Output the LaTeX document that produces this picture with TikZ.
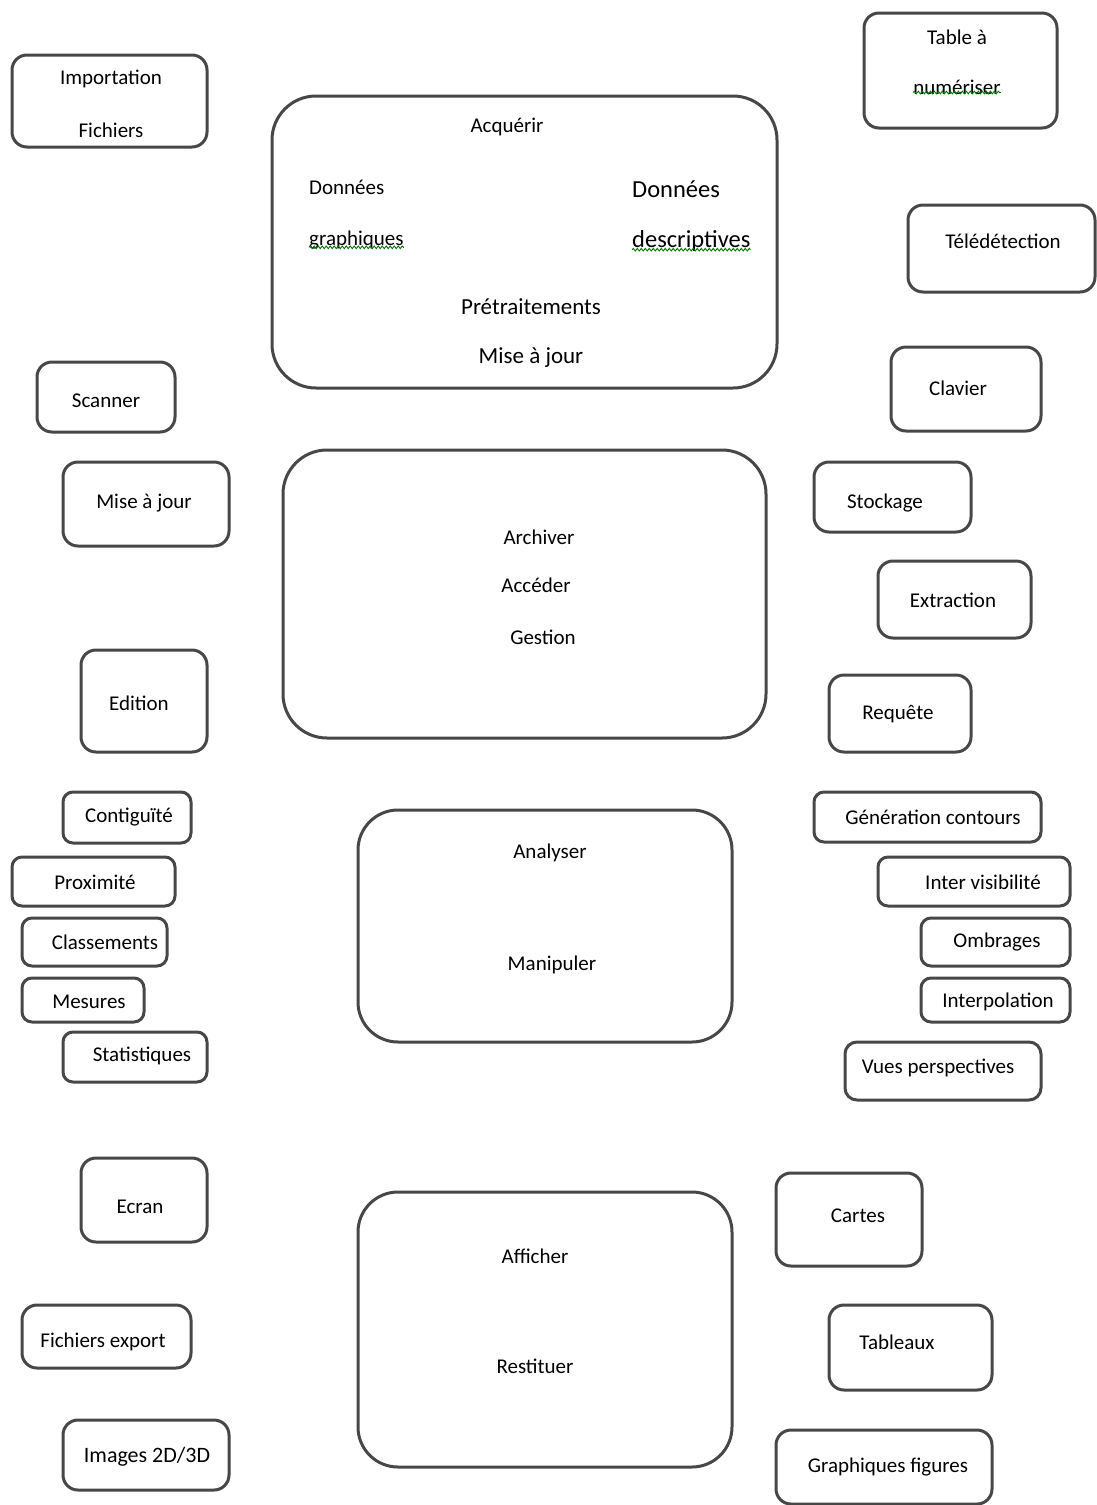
\documentclass[tikz,border=0pt]{standalone}
\usepackage{fontspec}
\setmainfont{Carlito}
\usetikzlibrary{decorations.pathmorphing}
\tikzset{
  box/.style={draw=black!72, line width=3pt, rounded corners=15pt, inner sep=0pt, fill=white},
  bigbox/.style={box, rounded corners=44pt},
  lbl/.style={inner sep=0pt, font=\fontsize{21}{24}\selectfont, text=black},
  lblbig/.style={lbl, font=\fontsize{24.5}{28}\selectfont},
  squig/.style={draw=green!45!black, line width=0.9pt, decorate, decoration={snake, amplitude=1.3pt, segment length=4pt}}
}
\begin{document}
\begin{tikzpicture}[x=1pt,y=-1pt]
\useasboundingbox (0,0) rectangle (1097,1505);
% boxes
\node[box, minimum width=195, minimum height=92] (imp) at (109.5,101) {};
\node[bigbox, minimum width=505, minimum height=292] (acq) at (524.5,242) {};
\node[box, minimum width=193, minimum height=115] (tab) at (960.5,70.5) {};
\node[box, minimum width=187, minimum height=87] (tel) at (1001.5,248.5) {};
\node[box, minimum width=150, minimum height=84] (clav) at (966,389) {};
\node[box, minimum width=138, minimum height=70] (scan) at (106,397) {};
\node[box, minimum width=166, minimum height=84] (maj) at (146,504) {};
\node[bigbox, minimum width=483, minimum height=288] (arch) at (524.5,594) {};
\node[box, minimum width=157, minimum height=70] (stock) at (892.5,497) {};
\node[box, minimum width=153, minimum height=77] (extr) at (954.5,599.5) {};
\node[box, minimum width=126, minimum height=102] (edit) at (144,701) {};
\node[box, minimum width=142, minimum height=77] (req) at (900,713.5) {};
\node[box, rounded corners=10pt, minimum width=128, minimum height=51] (cont) at (127,817.5) {};
\node[box, rounded corners=10pt, minimum width=163, minimum height=49] (prox) at (93.5,881.5) {};
\node[box, rounded corners=10pt, minimum width=145, minimum height=48] (class) at (94.5,942) {};
\node[box, rounded corners=10pt, minimum width=122, minimum height=44] (mes) at (83,1000) {};
\node[box, rounded corners=10pt, minimum width=144, minimum height=50] (stat) at (135,1057) {};
\node[bigbox, rounded corners=40pt, minimum width=374, minimum height=232] (ana) at (545,926) {};
\node[box, rounded corners=10pt, minimum width=227, minimum height=50] (gen) at (927.5,817) {};
\node[box, rounded corners=10pt, minimum width=192, minimum height=49] (inter) at (974,881.5) {};
\node[box, rounded corners=10pt, minimum width=149, minimum height=48] (omb) at (995.5,942) {};
\node[box, rounded corners=10pt, minimum width=149, minimum height=44] (interp) at (995.5,1000) {};
\node[box, rounded corners=12pt, minimum width=196, minimum height=58] (vues) at (943,1071) {};
\node[box, minimum width=126, minimum height=84] (ecran) at (144,1200) {};
\node[bigbox, rounded corners=40pt, minimum width=374, minimum height=275] (aff) at (545,1329.5) {};
\node[box, minimum width=146, minimum height=93] (cartes) at (849,1219.5) {};
\node[box, minimum width=169, minimum height=63] (fexp) at (106.5,1336.5) {};
\node[box, minimum width=163, minimum height=85] (tabx) at (910.5,1347.5) {};
\node[box, minimum width=166, minimum height=70] (img) at (146,1455) {};
\node[box, minimum width=216, minimum height=74] (graph) at (884,1467) {};
% labels
\node[lbl] (imp-a) at (111,79) {Importation};
\node[lbl] (imp-b) at (111,130) {Fichiers};
\node[lbl] (acq-a) at (507,127) {Acquérir};
\node[lbl, anchor=west] (acq-b) at (309,187) {Données};
\node[lbl, anchor=west] (acq-c) at (309,240) {graphiques};
\node[lblbig, anchor=west] (acq-d) at (632,189) {Données};
\node[lblbig, anchor=west] (acq-e) at (632,241) {descriptives};
\node[lblbig, font=\fontsize{23}{27}\selectfont] (acq-f) at (531,307) {Prétraitements};
\node[lblbig, font=\fontsize{23}{27}\selectfont] (acq-g) at (531,358) {Mise à jour};
\node[lbl] (tab-a) at (957,37) {Table à};
\node[lbl] (tab-b) at (957,87) {numériser};
\node[lbl] (tel-a) at (1003,241) {Télédétection};
\node[lbl] (clav-a) at (958,388) {Clavier};
\node[lbl] (scan-a) at (106,401) {Scanner};
\node[lbl] (maj-a) at (144,503) {Mise à jour};
\node[lbl] (arch-a) at (539,537) {Archiver};
\node[lbl] (arch-b) at (536,585) {Accéder};
\node[lbl] (arch-c) at (543,637) {Gestion};
\node[lbl] (stock-a) at (885,503) {Stockage};
\node[lbl] (extr-a) at (953,600) {Extraction};
\node[lbl] (edit-a) at (139,703) {Edition};
\node[lbl] (req-a) at (898,714) {Requête};
\node[lbl] (cont-a) at (129,817) {Contiguïté};
\node[lbl] (prox-a) at (95,882) {Proximité};
\node[lbl] (class-a) at (105,942) {Classements};
\node[lbl] (mes-a) at (89,1002) {Mesures};
\node[lbl] (stat-a) at (142,1056) {Statistiques};
\node[lbl] (ana-a) at (550,853) {Analyser};
\node[lbl] (ana-b) at (552,965) {Manipuler};
\node[lbl] (gen-a) at (933,817) {Génération contours};
\node[lbl] (inter-a) at (983,882) {Inter visibilité};
\node[lbl] (omb-a) at (997,942) {Ombrages};
\node[lbl] (interp-a) at (998,1002) {Interpolation};
\node[lbl] (vues-a) at (938,1068) {Vues perspectives};
\node[lbl] (ecran-a) at (140,1207) {Ecran};
\node[lbl] (aff-a) at (535,1256) {Afficher};
\node[lbl] (aff-b) at (535,1366) {Restituer};
\node[lbl] (cartes-a) at (858,1216) {Cartes};
\node[lbl] (fexp-a) at (103,1342) {Fichiers export};
\node[lbl] (tabx-a) at (897,1342) {Tableaux};
\node[lbl, font=\fontsize{22}{26}\selectfont] (img-a) at (147,1457) {Images 2D/3D};
\node[lbl] (graph-a) at (888,1467) {Graphiques figures};
% spell-check squiggles
\draw[squig] ([yshift=2pt]acq-c.south west) -- ([yshift=2pt]acq-c.south east);
\draw[squig] ([yshift=2pt]acq-e.south west) -- ([yshift=2pt]acq-e.south east);
\draw[squig] ([yshift=2pt]tab-b.south west) -- ([yshift=2pt]tab-b.south east);
\end{tikzpicture}
\end{document}
